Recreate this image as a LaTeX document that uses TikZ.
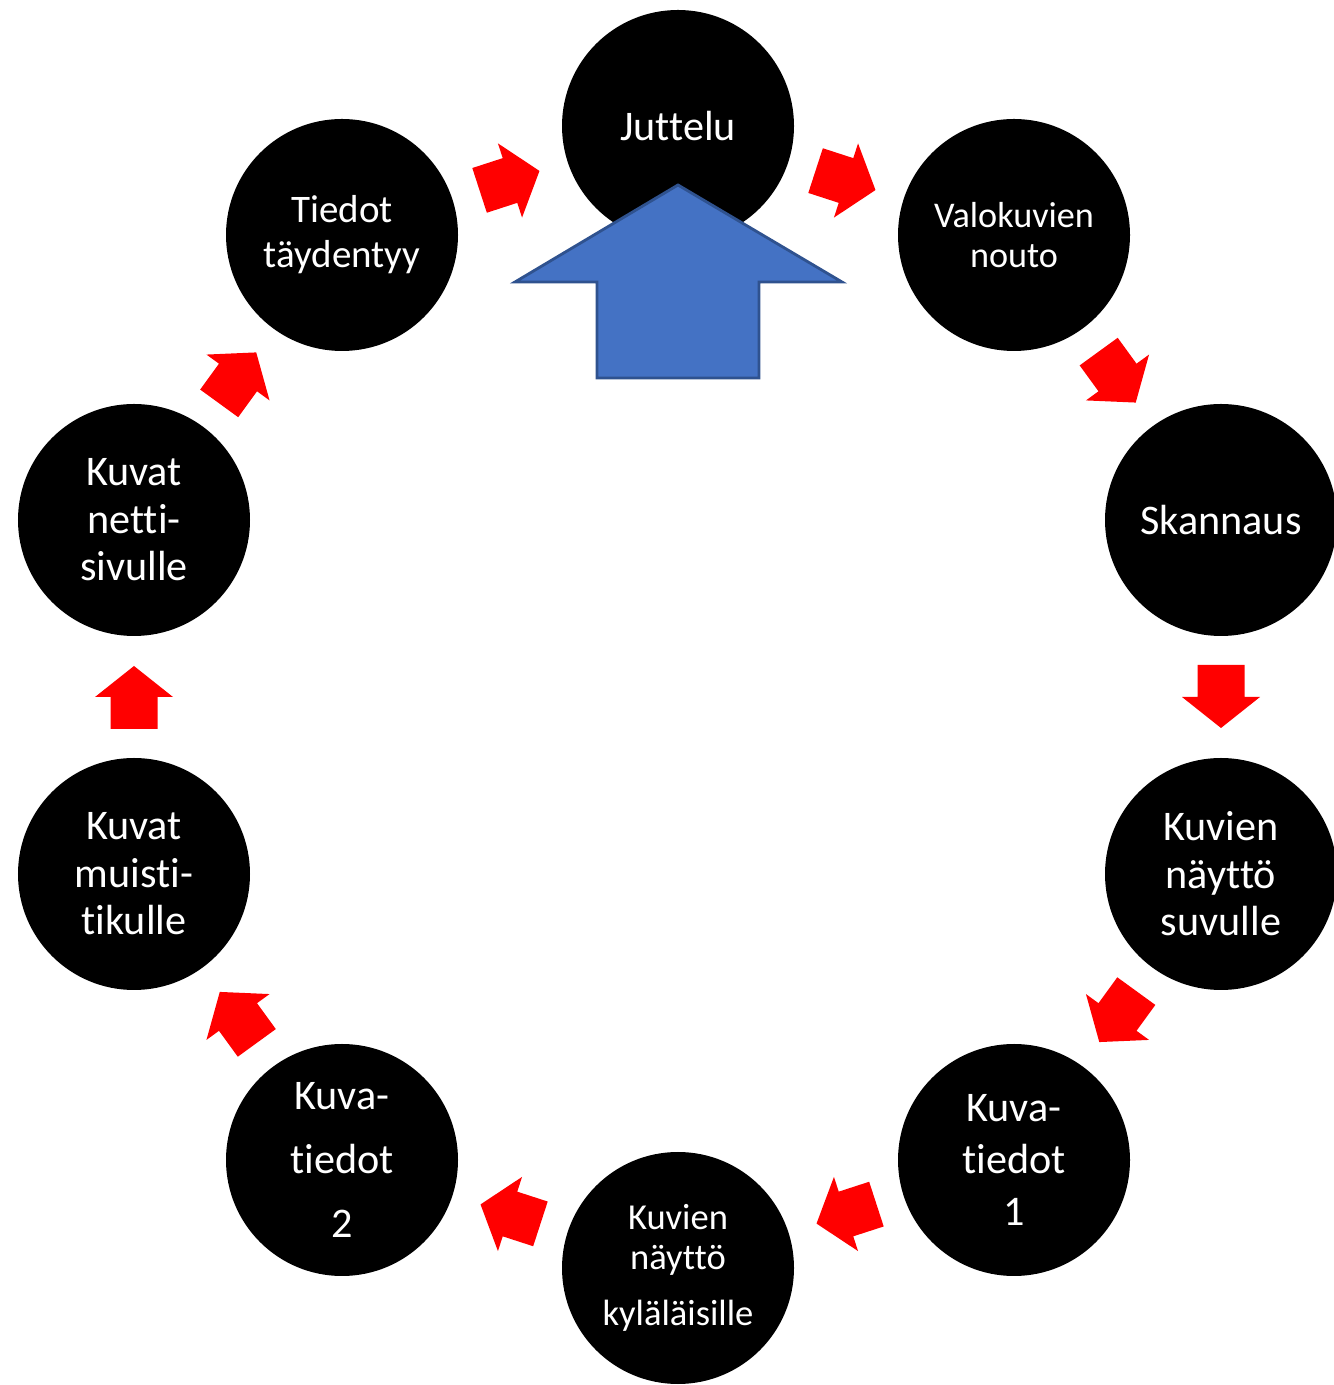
\documentclass[tikz,border=0pt]{standalone}
\usepackage{fontspec}
\setmainfont{Carlito}[Ligatures=NoCommon]
\usetikzlibrary{calc}

\definecolor{arrowblue}{HTML}{4472C4}
\definecolor{arrowedge}{HTML}{2F528F}

\begin{document}
\begin{tikzpicture}[
  stage/.style={circle, fill=black, text=white, minimum size=2.32cm, inner sep=0pt, align=center, font=\fontsize{12}{13.5}\selectfont},
  redarrow/.style={fill=red}
]
\useasboundingbox (0,0) rectangle (13.33,13.85);
\node[stage] (juttelu) at (6.78,12.59) {Juttelu};
\node[stage, font=\fontsize{10.3}{11.4}\selectfont] (nouto) at (10.14,11.50) {Valokuvien\\nouto};
\node[stage] (skannaus) at (12.21,8.65) {Skannaus};
\node[stage] (suku) at (12.21,5.11) {Kuvien\\näyttö\\suvulle};
\node[stage] (tiedot1) at (10.14,2.25) {Kuva-\\[0.45mm]tiedot\\[0.45mm]1};
\node[stage, font=\fontsize{10.4}{11.4}\selectfont] (kyla) at (6.78,1.17) {Kuvien\\näyttö\\[1.6mm]kyläläisille};
\node[stage] (tiedot2) at (3.42,2.25) {Kuva-\\[1.7mm]tiedot\\[1.7mm]2};
\node[stage] (tikku) at (1.34,5.11) {Kuvat\\muisti-\\tikulle};
\node[stage] (netti) at (1.34,8.65) {Kuvat\\netti-\\sivulle};
\node[stage, font=\fontsize{11.1}{12.8}\selectfont] (taydentyy) at (3.42,11.50) {Tiedot\\täydentyy};
\foreach \a/\b/\r in {juttelu/nouto/-18, nouto/skannaus/-54, skannaus/suku/-90, suku/tiedot1/-126, tiedot1/kyla/-162, kyla/tiedot2/162, tiedot2/tikku/126, tikku/netti/90, netti/taydentyy/54, taydentyy/juttelu/18}
  \fill[redarrow, shift={($(\a)!0.5!(\b)$)}, rotate=\r] (-0.32,0.235) -- (0,0.235) -- (0,0.39) -- (0.31,0) -- (0,-0.39) -- (0,-0.235) -- (-0.32,-0.235) -- cycle;
\draw[fill=arrowblue, draw=arrowedge, line width=0.8pt] ($(juttelu)+(0,-0.59)$) -- ++(1.64,-0.97) -- ++(-0.83,0) -- ++(0,-0.96) -- ++(-1.62,0) -- ++(0,0.96) -- ++(-0.82,0) -- cycle;
\end{tikzpicture}
\end{document}
